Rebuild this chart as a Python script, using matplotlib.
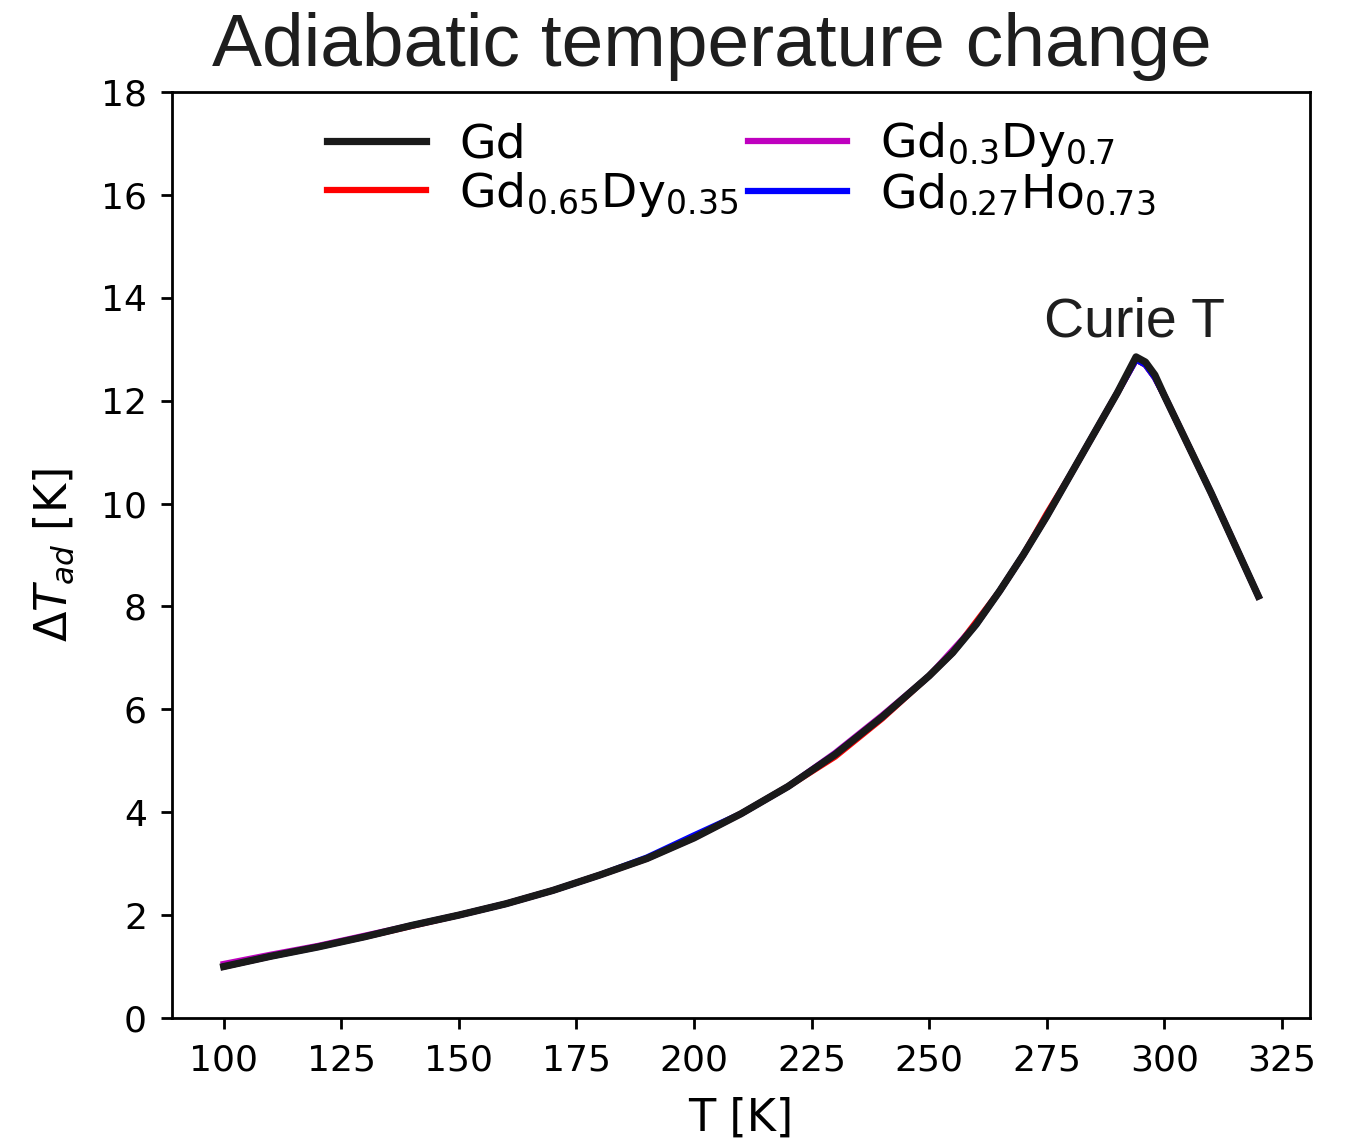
"""Adiabatic temperature change of Gd and Gd-based alloys."""

import matplotlib
matplotlib.use("Agg")
import matplotlib.pyplot as plt

# Temperatures [K]
temps = [100, 110, 120, 130, 140, 150, 160, 170, 180, 190, 200, 210, 220,
         230, 240, 250, 255, 260, 265, 270, 275, 280, 285, 290, 294, 296,
         298, 300, 305, 310, 315, 320]

# dT_ad [K] per material (the alloy curves sit almost on top of Gd)
dt_gd = [1.0, 1.2, 1.38, 1.58, 1.8, 2.0, 2.22, 2.48, 2.78, 3.1, 3.5, 3.97,
         4.5, 5.12, 5.85, 6.65, 7.1, 7.65, 8.3, 9.0, 9.75, 10.55, 11.35,
         12.15, 12.85, 12.75, 12.5, 12.1, 11.15, 10.2, 9.2, 8.2]
dt_gd65dy35 = [1.0, 1.2, 1.39, 1.58, 1.79, 2.0, 2.22, 2.48, 2.78, 3.1, 3.52,
               3.97, 4.5, 5.08, 5.82, 6.65, 7.1, 7.7, 8.3, 9.0, 9.8, 10.55,
               11.35, 12.15, 12.8, 12.7, 12.45, 12.1, 11.15, 10.2, 9.2, 8.2]
dt_gd30dy70 = [1.05, 1.23, 1.4, 1.6, 1.8, 2.0, 2.22, 2.48, 2.78, 3.1, 3.5,
               3.97, 4.5, 5.15, 5.88, 6.65, 7.15, 7.65, 8.3, 9.0, 9.75, 10.55,
               11.35, 12.15, 12.8, 12.7, 12.45, 12.1, 11.15, 10.2, 9.2, 8.2]
dt_gd27ho73 = [1.0, 1.2, 1.38, 1.58, 1.8, 2.0, 2.22, 2.48, 2.78, 3.12, 3.55,
               3.97, 4.5, 5.13, 5.85, 6.65, 7.1, 7.65, 8.3, 9.0, 9.75, 10.55,
               11.35, 12.15, 12.8, 12.7, 12.45, 12.1, 11.15, 10.2, 9.2, 8.2]

labels = ["Gd", "Gd$_{0.65}$Dy$_{0.35}$", "Gd$_{0.3}$Dy$_{0.7}$",
          "Gd$_{0.27}$Ho$_{0.73}$"]


def main() -> None:
    fig = plt.figure(figsize=(13.5, 11.41), dpi=100)
    ax = fig.add_axes([0.1274, 0.1078, 0.843, 0.8116])

    # alloys first so the Gd line covers them
    l_red, = ax.plot(temps, dt_gd65dy35, color="r", lw=4.5)
    l_mag, = ax.plot(temps, dt_gd30dy70, color="m", lw=4.5)
    l_blue, = ax.plot(temps, dt_gd27ho73, color="b", lw=4.5)
    l_gd, = ax.plot(temps, dt_gd, color="#1a1a1a", lw=5.2)

    ax.set_ylim(0, 18)
    ax.set_yticks(range(0, 19, 2))
    ax.set_xticks(range(100, 326, 25))

    ax.tick_params(labelsize=26, length=8, width=2, pad=10)
    for sp in ax.spines.values():
        sp.set_linewidth(2)

    ax.set_xlabel("T [K]", fontsize=32, labelpad=14)
    ax.set_ylabel(r"$\Delta T_{ad}$ [K]", fontsize=32, labelpad=18)
    # title sits a bit left of the axes centre in the original
    ax.set_title("Adiabatic temperature change", fontsize=54, x=0.474,
                 family="Liberation Sans", color="#1e1e1e", pad=19)
    ax.text(274.5, 13.25, "Curie T", fontsize=40, family="Liberation Sans",
            color="#1e1e1e")

    ax.legend([l_gd, l_red, l_mag, l_blue], labels, ncol=2, loc="upper center",
              bbox_to_anchor=(0.5, 1.0), frameon=False, fontsize=34,
              handlelength=2.1, handletextpad=0.7, columnspacing=0.2,
              labelspacing=0.05, borderaxespad=0.2)

    fig.savefig("out.png", dpi=100)
    plt.close(fig)


if __name__ == "__main__":
    main()
